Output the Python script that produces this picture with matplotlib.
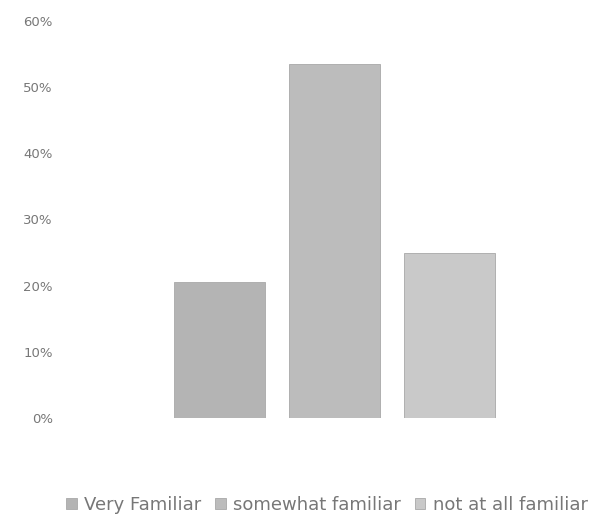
import matplotlib
matplotlib.use("Agg")
import matplotlib.pyplot as plt
from matplotlib.ticker import FuncFormatter

series = ["Very Familiar", "somewhat familiar", "not at all familiar"]
values = [0.205, 0.535, 0.25]
colors = ["#b4b4b4", "#bcbcbc", "#c9c9c9"]
yticks = [0, 0.1, 0.2, 0.3, 0.4, 0.5, 0.6]

W, H = 599, 531
fig = plt.figure(figsize=(W / 100, H / 100), dpi=100)
ax = fig.add_axes([68 / W, (H - 418) / H, (590 - 68) / W, (418 - 21) / H])

for i, (name, v, c) in enumerate(zip(series, values, colors)):
    ax.bar(i, v, width=0.79, color=c, edgecolor="#a8a8a8", linewidth=0.6, label=name)

ax.set_xlim(-1.32, 3.22)
ax.set_ylim(0, 0.6)
ax.set_yticks(yticks)
ax.yaxis.set_major_formatter(FuncFormatter(lambda v, _: f"{v * 100:.0f}%"))
ax.set_xticks([])
ax.tick_params(axis="y", length=0, pad=11, labelsize=9.5, labelcolor="#777777")
for s in ax.spines.values():
    s.set_visible(False)

fig.legend(loc="center", bbox_to_anchor=(327 / W, (H - 505) / H), ncol=3,
           frameon=False, fontsize=13, handlelength=0.6, handleheight=0.6,
           handletextpad=0.4, columnspacing=0.75, labelcolor="#777777")

fig.savefig("out.png", dpi=100, facecolor="white")
